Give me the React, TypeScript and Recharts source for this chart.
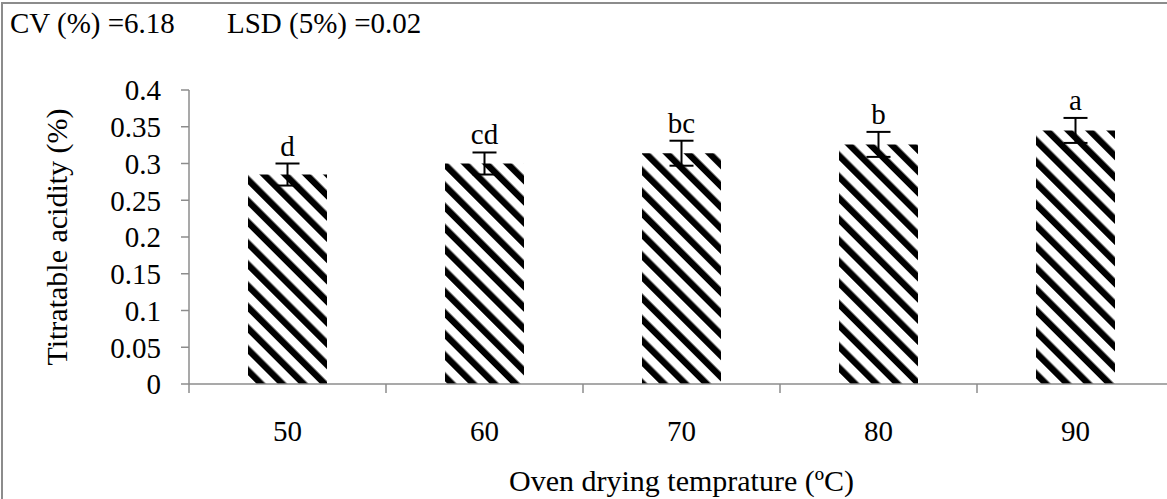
import React from "react";
import { BarChart, Bar, XAxis, YAxis, ErrorBar, LabelList } from "recharts";

const temperatures = ["50", "60", "70", "80", "90"];
const acidity = [0.285, 0.3, 0.314, 0.326, 0.345];
const errors = [0.015, 0.015, 0.017, 0.017, 0.017];
const letters = ["d", "cd", "bc", "b", "a"];
const yTicks = [0, 0.05, 0.1, 0.15, 0.2, 0.25, 0.3, 0.35, 0.4];

const data = temperatures.map((t, i) => ({
  temp: t,
  value: acidity[i],
  err: errors[i],
  letter: letters[i],
}));

const FONT = "'Liberation Serif', 'Times New Roman', serif";
const AXIS = "#8c8c8c";
const FS = 29;
const TITLE_FS = 30;

const XTick = (props: any) => {
  const { x, y, payload } = props;
  const left = x - (payload.offset || 0);
  return (
    <g>
      <line x1={left} y1={y - 14} x2={left} y2={y - 5} stroke={AXIS} strokeWidth={1.5} />
      <text x={x} y={y + 43} textAnchor="middle" fontFamily={FONT} fontSize={FS} fill="#000">
        {payload.value}
      </text>
    </g>
  );
};

const XTitle = (props: any) => {
  const { viewBox } = props;
  const cx = viewBox.x + viewBox.width / 2;
  return (
    <text x={cx} y={viewBox.y + 107} textAnchor="middle" fontFamily={FONT} fontSize={TITLE_FS} fill="#000">
      Oven drying temprature (ºC)
    </text>
  );
};

const LetterLabel = (props: any) => {
  const { x, y, width, height, index } = props;
  const v = acidity[index];
  const pxPerUnit = height / v;
  const capY = y - errors[index] * pxPerUnit;
  return (
    <text x={x + width / 2} y={capY - 8} textAnchor="middle" fontFamily={FONT} fontSize={FS} fill="#000">
      {letters[index]}
    </text>
  );
};

export default function App() {
  return (
    <div
      style={{
        position: "absolute",
        left: 0,
        top: 0,
        width: 1167,
        height: 499,
        overflow: "hidden",
        background: "#fff",
      }}
    >
      <div
        style={{
          position: "absolute",
          left: 1,
          top: 2,
          width: 1200,
          height: 600,
          borderLeft: `2px solid ${AXIS}`,
          borderTop: `2px solid ${AXIS}`,
          boxSizing: "border-box",
        }}
      />
      <div
        style={{
          position: "absolute",
          left: 10,
          top: 7,
          fontFamily: FONT,
          fontSize: FS,
          lineHeight: "33px",
          whiteSpace: "pre",
          color: "#000",
        }}
      >
        CV (%) =6.18
      </div>
      <div
        style={{
          position: "absolute",
          left: 227,
          top: 7,
          fontFamily: FONT,
          fontSize: FS,
          lineHeight: "33px",
          whiteSpace: "pre",
          color: "#000",
        }}
      >
        LSD (5%) =0.02
      </div>
      <div style={{ position: "absolute", left: 0, top: 0 }}>
        <BarChart
          width={1174}
          height={499}
          data={data}
          margin={{ top: 90, right: 0, bottom: 55, left: 0 }}
          barSize={79}
        >
          <defs>
            <pattern
              id="hatch"
              patternUnits="userSpaceOnUse"
              width={15}
              height={15}
              patternTransform="rotate(-45)"
            >
              <rect x={0} y={0} width={15} height={15} fill="#fff" />
              <rect x={0} y={0} width={6.5} height={15} fill="#000" />
            </pattern>
          </defs>
          <XAxis
            dataKey="temp"
            height={60}
            axisLine={{ stroke: AXIS, strokeWidth: 1.5 }}
            tickLine={false}
            tickSize={0}
            tickMargin={14}
            tick={<XTick />}
            interval={0}
            label={<XTitle />}
          />
          <YAxis
            width={189}
            domain={[0, 0.4]}
            ticks={yTicks}
            interval={0}
            axisLine={{ stroke: AXIS, strokeWidth: 1.5 }}
            tickLine={{ stroke: AXIS, strokeWidth: 1.5 }}
            tickSize={8}
            tickMargin={20}
            tickFormatter={(v: number) => String(Number(v.toFixed(2)))}
            tick={{ fontFamily: FONT, fontSize: FS, fill: "#000" }}
            label={{
              value: "Titratable acidity (%)",
              angle: -90,
              position: "insideLeft",
              offset: 56,
              style: { textAnchor: "middle" },
              fontFamily: FONT,
              fontSize: TITLE_FS,
              fill: "#000",
            }}
          />
          <Bar dataKey="value" fill="url(#hatch)" isAnimationActive={false}>
            <ErrorBar dataKey="err" width={12} stroke="#000" strokeWidth={2} direction="y" />
            <LabelList dataKey="letter" content={<LetterLabel />} />
          </Bar>
        </BarChart>
      </div>
    </div>
  );
}
